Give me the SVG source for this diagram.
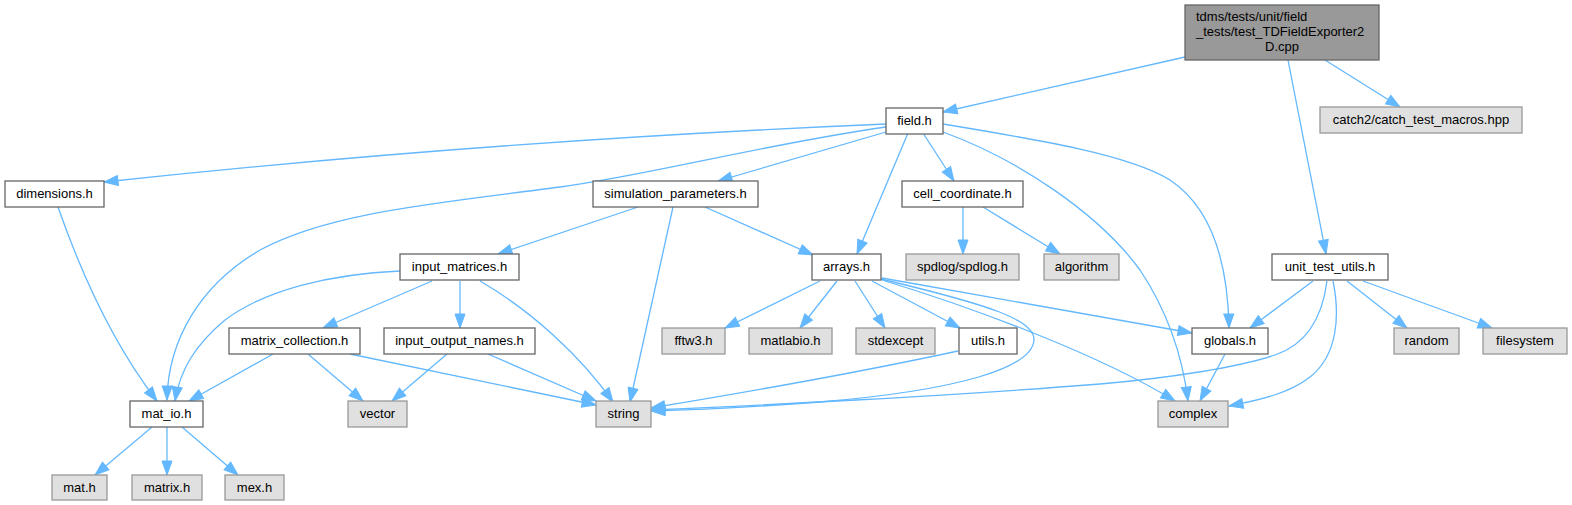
<svg xmlns="http://www.w3.org/2000/svg" width="1572" height="505" viewBox="0 0 1572 505">
<style>
.n rect{fill:#ffffff;stroke:#666666;stroke-width:1.3}
.g rect{fill:#e0e0e0;stroke:#999999;stroke-width:1.3}
.r rect{fill:#999999;stroke:#666666;stroke-width:1.3}
text{font-family:"Liberation Sans",Arial,sans-serif;font-size:13px;fill:#000000;text-anchor:middle}
#edges path{fill:none;stroke:#63b8ff;stroke-width:1.3;marker-end:url(#ah)}
</style>
<defs>
<marker id="ah" markerUnits="userSpaceOnUse" markerWidth="15" markerHeight="11" refX="14" refY="5" orient="auto" overflow="visible">
<path d="M0,0 L14,5 L0,10 z" fill="#63b8ff" stroke="#63b8ff" stroke-width="1"/>
</marker>
</defs>
<rect width="1572" height="505" fill="#ffffff"/>
<g id="edges">
<path d="M1185,57 L943,112"/>
<path d="M1325,60 L1400,107"/>
<path d="M1288,60 L1326,254"/>
<path d="M886,124 C650,134 400,150 104,182"/>
<path d="M886,132 L718,181"/>
<path d="M886,127 C760,145 650,175 560,187 C440,203 330,212 260,250 C200,285 168,340 167,400"/>
<path d="M908,133 L857,254"/>
<path d="M923,133 L954,181"/>
<path d="M943,132 C1020,160 1100,215 1140,270 C1170,315 1183,360 1188,401"/>
<path d="M943,124 C1040,140 1130,155 1170,180 C1215,210 1228,270 1229,328"/>
<path d="M638,207 L498,254"/>
<path d="M673,207 L630,402"/>
<path d="M705,207 L813,255"/>
<path d="M963,207 L963,254"/>
<path d="M983,207 L1060,254"/>
<path d="M58,207 C80,270 110,340 157,401"/>
<path d="M400,271 C330,274 265,290 225,320 C195,345 180,370 175,401"/>
<path d="M432,281 L323,328"/>
<path d="M460,281 L460,328"/>
<path d="M480,281 C530,310 580,355 613,402"/>
<path d="M273,354 L189,401"/>
<path d="M308,354 L363,401"/>
<path d="M350,354 L596,405"/>
<path d="M447,354 L392,401"/>
<path d="M488,354 L596,401"/>
<path d="M152,427 L95,475"/>
<path d="M167,427 L167,475"/>
<path d="M182,427 L238,475"/>
<path d="M820,281 L725,328"/>
<path d="M837,281 L800,328"/>
<path d="M855,281 L885,328"/>
<path d="M872,281 L960,328"/>
<path d="M882,278 L1192,333"/>
<path d="M882,280 C980,310 1100,355 1175,401"/>
<path d="M881,279 C990,305 1035,320 1034,340 C1032,368 960,390 820,402 C740,408 690,410 651,411"/>
<path d="M958,351 C870,370 760,390 651,408"/>
<path d="M1313,281 L1250,328"/>
<path d="M1347,281 L1407,328"/>
<path d="M1363,281 L1492,328"/>
<path d="M1327,281 C1322,320 1305,345 1275,355 C1240,367 1170,378 1100,384 C950,396 750,406 651,410"/>
<path d="M1333,281 C1340,315 1338,355 1310,377 C1290,393 1260,400 1229,406"/>
<path d="M1225,354 L1200,401"/>
</g>
<g id="root" class="r"><rect x="1185" y="5" width="194" height="55"/>
<text x="1196" y="21" style="text-anchor:start">tdms/tests/unit/field</text>
<text x="1196" y="36" style="text-anchor:start">_tests/test_TDFieldExporter2</text>
<text x="1282" y="51">D.cpp</text></g>
<g id="field_h" class="n"><rect x="886" y="108" width="57" height="26"/><text x="914.5" y="125">field.h</text></g>
<g id="catch2" class="g"><rect x="1320" y="107" width="202" height="26"/><text x="1421" y="124">catch2/catch_test_macros.hpp</text></g>
<g id="dimensions_h" class="n"><rect x="5" y="181" width="99" height="26"/><text x="54.5" y="198">dimensions.h</text></g>
<g id="simulation_parameters_h" class="n"><rect x="593" y="181" width="165" height="26"/><text x="675.5" y="198">simulation_parameters.h</text></g>
<g id="cell_coordinate_h" class="n"><rect x="902" y="181" width="121" height="26"/><text x="962.5" y="198">cell_coordinate.h</text></g>
<g id="input_matrices_h" class="n"><rect x="400" y="254" width="119" height="26"/><text x="459.5" y="271">input_matrices.h</text></g>
<g id="arrays_h" class="n"><rect x="812" y="254" width="69" height="26"/><text x="846.5" y="271">arrays.h</text></g>
<g id="spdlog_h" class="g"><rect x="906" y="254" width="113" height="26"/><text x="962.5" y="271">spdlog/spdlog.h</text></g>
<g id="algorithm" class="g"><rect x="1044" y="254" width="75" height="26"/><text x="1081.5" y="271">algorithm</text></g>
<g id="unit_test_utils_h" class="n"><rect x="1272" y="254" width="116" height="26"/><text x="1330" y="271">unit_test_utils.h</text></g>
<g id="matrix_collection_h" class="n"><rect x="229" y="328" width="131" height="26"/><text x="294.5" y="345">matrix_collection.h</text></g>
<g id="input_output_names_h" class="n"><rect x="384" y="328" width="151" height="26"/><text x="459.5" y="345">input_output_names.h</text></g>
<g id="fftw3_h" class="g"><rect x="662" y="328" width="63" height="26"/><text x="693.5" y="345">fftw3.h</text></g>
<g id="matlabio_h" class="g"><rect x="749" y="328" width="83" height="26"/><text x="790.5" y="345">matlabio.h</text></g>
<g id="stdexcept" class="g"><rect x="856" y="328" width="79" height="26"/><text x="895.5" y="345">stdexcept</text></g>
<g id="utils_h" class="n"><rect x="959" y="328" width="58" height="26"/><text x="988" y="345">utils.h</text></g>
<g id="globals_h" class="n"><rect x="1192" y="328" width="76" height="26"/><text x="1230" y="345">globals.h</text></g>
<g id="random" class="g"><rect x="1394" y="328" width="65" height="26"/><text x="1426.5" y="345">random</text></g>
<g id="filesystem" class="g"><rect x="1483" y="328" width="84" height="26"/><text x="1525" y="345">filesystem</text></g>
<g id="mat_io_h" class="n"><rect x="130" y="401" width="73" height="26"/><text x="166.5" y="418">mat_io.h</text></g>
<g id="vector" class="g"><rect x="348" y="401" width="59" height="26"/><text x="377.5" y="418">vector</text></g>
<g id="string" class="g"><rect x="596" y="401" width="55" height="26"/><text x="623.5" y="418">string</text></g>
<g id="complex" class="g"><rect x="1158" y="401" width="70" height="26"/><text x="1193" y="418">complex</text></g>
<g id="mat_h" class="g"><rect x="52" y="475" width="55" height="25"/><text x="79.5" y="492">mat.h</text></g>
<g id="matrix_h" class="g"><rect x="132" y="475" width="70" height="25"/><text x="167" y="492">matrix.h</text></g>
<g id="mex_h" class="g"><rect x="225" y="475" width="59" height="25"/><text x="254.5" y="492">mex.h</text></g>
</svg>
